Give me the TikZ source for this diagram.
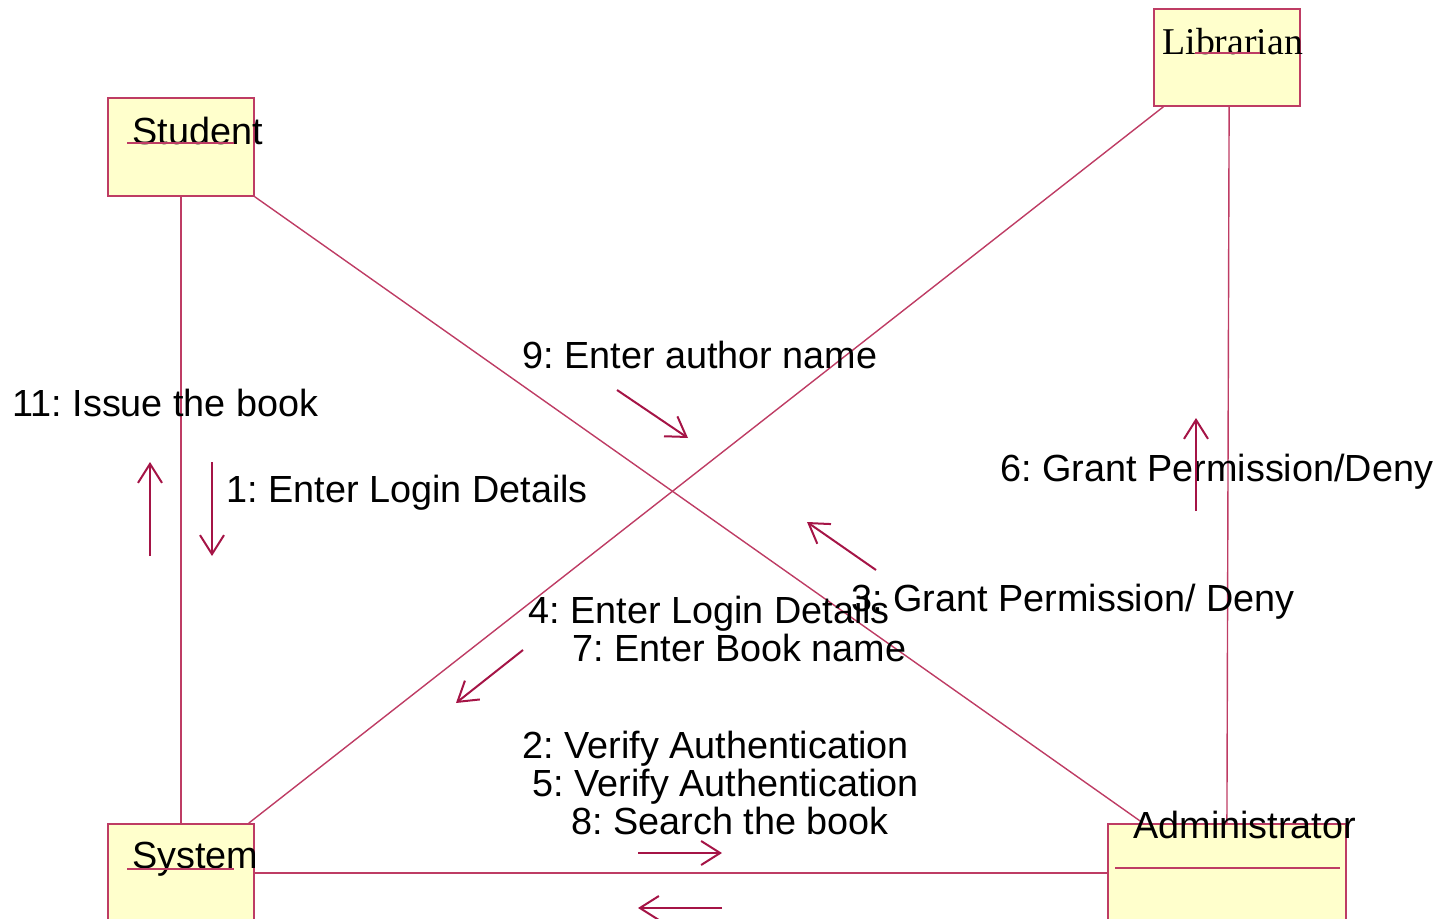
\documentclass[tikz,border=0pt]{standalone}
\usepackage{fontspec}
\setmainfont{Liberation Sans}
\newfontfamily\serifnm{Liberation Serif}
\usetikzlibrary{arrows.meta,calc}
\frenchspacing
\definecolor{umlline}{RGB}{190,60,100}
\definecolor{umlarrow}{RGB}{165,20,70}
\definecolor{umlfill}{RGB}{255,255,204}
\tikzset{
  obj/.style={draw=umlline, fill=umlfill, line width=0.9pt, rectangle, anchor=north west, inner sep=0pt},
  link/.style={draw=umlline, line width=0.7pt},
  msg/.style={draw=umlarrow, line width=1pt, -{Straight Barb[length=9.5pt,width=12pt,line width=1pt]}},
  lbl/.style={anchor=base west, inner sep=0pt, font=\fontsize{18.9}{19}\selectfont},
  uline/.style={draw=umlline, line width=0.7pt}
}
\begin{document}
\begin{tikzpicture}[x=0.5pt,y=-0.5pt]
\useasboundingbox (0,0) rectangle (1443,919);
\clip (0,0) rectangle (1443,919);

% objects
\node[obj, minimum width=73pt, minimum height=49pt] (stu) at (107,97) {};
\node[obj, minimum width=73pt, minimum height=48.5pt] (lib) at (1153,8) {};
\node[obj, minimum width=73pt, minimum height=60pt] (sys) at (107,823) {};
\node[obj, minimum width=119pt, minimum height=60pt] (adm) at (1107,823) {};

% links between objects
\draw[link] ($(stu.south west)!0.5!(stu.south east)$) -- ($(sys.north west)!0.5!(sys.north east)$);
\draw[link] (stu.south east) -- ($(adm.north west)!0.15!(adm.north east)$);
\draw[link] ($(lib.south west)!0.07!(lib.south east)$) -- ($(sys.north west)!0.96!(sys.north east)$);
\draw[link] ($(lib.south west)!0.515!(lib.south east)$) -- ($(adm.north west)!0.5!(adm.north east)$);
\draw[link] ($(sys.north east)+(0,50)$) -- ($(adm.north west)+(0,50)$);

% object names
\node[lbl] (stuname) at (132,145) {Student};
\draw[uline] (127,143) -- (234,143);
\node[lbl, font=\fontsize{18.9}{19}\selectfont\serifnm] (libname) at (1162,55) {Librarian};
\draw[uline] (1195,53) -- (1260,53);
\node[lbl] (sysname) at (132,868) {System};
\draw[uline] (127,869) -- (234,869);
\node[lbl] (admname) at (1133,838) {Administrator};
\draw[uline] (1115,868) -- (1340,868);

% message labels
\node[lbl] (m11) at (12,416) {11: Issue the book};
\node[lbl] (m1) at (226,502) {1: Enter Login Details};
\node[lbl] (m9) at (522,368) {9: Enter author name};
\node[lbl] (m6) at (1000,481) {6: Grant Permission/Deny};
\node[lbl] (m3) at (851,611) {3: Grant Permission/ Deny};
\node[lbl] (m4) at (528,623) {4: Enter Login Details};
\node[lbl] (m7) at (572,661) {7: Enter Book name};
\node[lbl] (m2) at (522,758) {2: Verify Authentication};
\node[lbl] (m5) at (532,796) {5: Verify Authentication};
\node[lbl] (m8) at (571,834) {8: Search the book};

% message arrows
\coordinate (a11s) at (150,556); \coordinate (a11e) at (150,462);
\coordinate (a1s) at (212,462);  \coordinate (a1e) at (212,556);
\coordinate (a9s) at (617,390);  \coordinate (a9e) at (688,438);
\coordinate (a3s) at (876,570);  \coordinate (a3e) at (807,522);
\coordinate (a4s) at (523,650);  \coordinate (a4e) at (456,703);
\coordinate (a6s) at (1196,511); \coordinate (a6e) at (1196,418);
\coordinate (a2s) at (638,853);  \coordinate (a2e) at (722,853);
\coordinate (abs) at (722,908);  \coordinate (abe) at (638,908);
\draw[msg] (a11s) -- (a11e);
\draw[msg] (a1s) -- (a1e);
\draw[msg] (a9s) -- (a9e);
\draw[msg] (a3s) -- (a3e);
\draw[msg] (a4s) -- (a4e);
\draw[msg] (a6s) -- (a6e);
\draw[msg] (a2s) -- (a2e);
\draw[msg] (abs) -- (abe);
\end{tikzpicture}
\end{document}
